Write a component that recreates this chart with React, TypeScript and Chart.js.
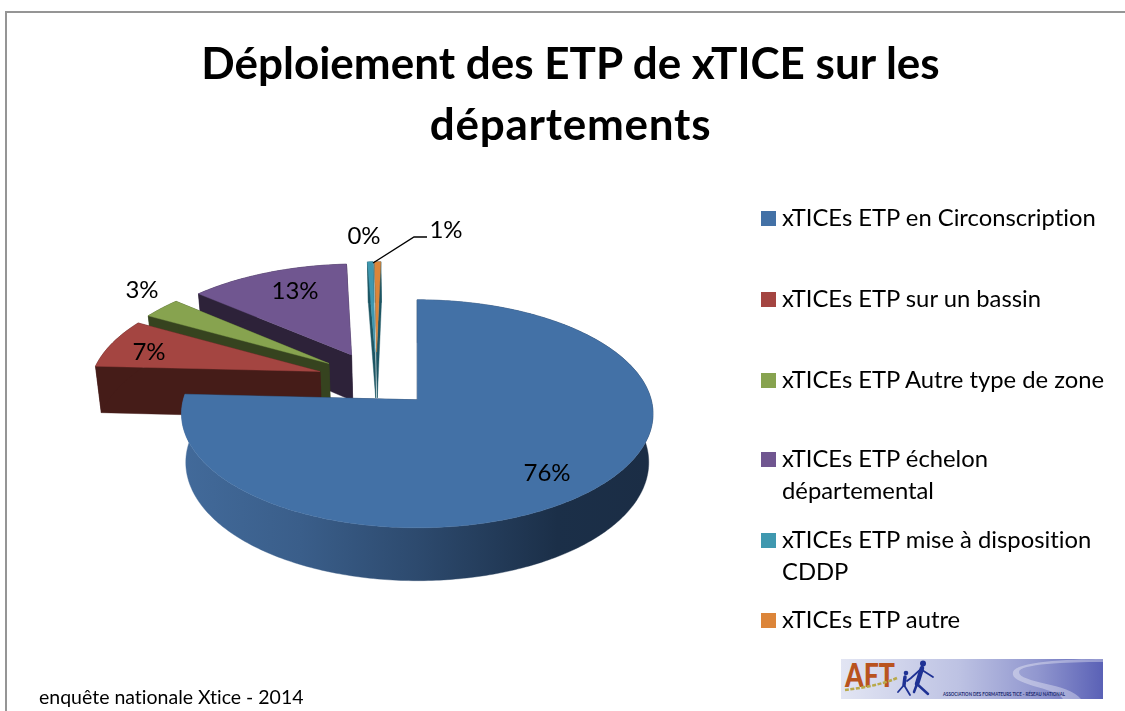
import React, { useEffect, useRef } from "react";
import { Chart, registerables } from "chart.js";

Chart.register(...registerables);

const titleLines = ["Déploiement des ETP de xTICE sur les", "départements"];
const categories = [
  "xTICEs ETP en Circonscription",
  "xTICEs ETP sur un bassin",
  "xTICEs ETP Autre type de zone",
  "xTICEs ETP échelon départemental",
  "xTICEs ETP mise à disposition CDDP",
  "xTICEs ETP autre",
];
const etpValues = [75.8, 7.3, 3.1, 12.85, 0.45, 0.5];
const valueLabels = ["76%", "7%", "3%", "13%", "0%", "1%"];
const topColors = ["#4371A6", "#A44541", "#87A34F", "#705690", "#3F98AF", "#DC8539"];
const wallColors = ["#1C3049", "#451C18", "#36431F", "#2D2239", "#1C5563", "#1C5563"];
const footnote = "enquête nationale Xtice - 2014";

const FONT = "Lato, Carlito, sans-serif";

// layout of the value labels and of the legend rows (centre positions in px)
const labelCentres = [[547, 473], [149, 352], [142, 290], [295, 291], [364, 236], [446, 230]];
const legendRows = [
  { y: 218, lines: [categories[0]] },
  { y: 299, lines: [categories[1]] },
  { y: 380, lines: [categories[2]] },
  { y: 459, lines: ["xTICEs ETP échelon", "départemental"] },
  { y: 540, lines: ["xTICEs ETP mise à disposition", "CDDP"] },
  { y: 620, lines: [categories[5]] },
];

const PERSP = 0.1228;
const Y_RATIO = 0.48;
const EXPLODE = 0.26;
const PIE_CENTRE = [-0.178, -0.19];

const pie3d = {
  id: "pie3d",
  beforeDatasetsDraw(chart: any) {
    const ctx = chart.ctx;
    const arcs = chart.getDatasetMeta(0).data as any[];
    const top = (a: any, u: number, v: number) => {
      const d = 1 - PERSP * v;
      return [a.x + (a.outerRadius * u) / d, a.y + (Y_RATIO * a.outerRadius * v) / d];
    };
    const bottom = (a: any, u: number, v: number) => {
      const p = top(a, u, v);
      return [a.x + 0.982 * (p[0] - a.x), p[1] + a.outerRadius * (0.205 + 0.021 * v)];
    };
    const fillPoly = (pts: number[][], fill: any) => {
      ctx.beginPath();
      pts.forEach((p, i) => (i ? ctx.lineTo(p[0], p[1]) : ctx.moveTo(p[0], p[1])));
      ctx.closePath();
      ctx.fillStyle = fill;
      ctx.strokeStyle = fill;
      ctx.lineWidth = 0.4;
      ctx.fill();
      ctx.stroke();
    };
    const items = arcs.map((a, i) => {
      const mid = (a.startAngle + a.endAngle) / 2;
      return {
        a,
        i,
        ou: PIE_CENTRE[0] + EXPLODE * Math.cos(mid),
        ov: PIE_CENTRE[1] + EXPLODE * Math.sin(mid),
      };
    });
    items.sort((p, q) => p.ov - q.ov);
    items.forEach(({ a, i, ou, ov }) => {
      const n = Math.max(2, Math.ceil((a.endAngle - a.startAngle) / 0.015));
      const rimUV: number[][] = [];
      for (let k = 0; k <= n; k++) {
        const t = a.startAngle + ((a.endAngle - a.startAngle) * k) / n;
        rimUV.push([ou + Math.cos(t), ov + Math.sin(t)]);
      }
      const topRim = rimUV.map((p) => top(a, p[0], p[1]));
      const botRim = rimUV.map((p) => bottom(a, p[0], p[1]));
      const apexT = top(a, ou, ov);
      const apexB = bottom(a, ou, ov);
      const wall = wallColors[i];
      fillPoly([apexT, topRim[n], botRim[n], apexB], wall);
      fillPoly([apexT, topRim[0], botRim[0], apexB], wall);
      let rimFill: any = wall;
      if (i === 0) {
        const g = ctx.createLinearGradient(a.x - a.outerRadius, 0, a.x + a.outerRadius, 0);
        g.addColorStop(0, "#426A9A");
        g.addColorStop(0.25, "#3A5E8A");
        g.addColorStop(0.5, "#2D4A6E");
        g.addColorStop(0.8, "#1B2F48");
        g.addColorStop(1, "#1B2D45");
        rimFill = g;
      }
      fillPoly([...topRim, ...botRim.slice().reverse()], rimFill);
      fillPoly([apexT, ...topRim], a.options.backgroundColor);
    });

    ctx.fillStyle = "#000";
    ctx.font = "24px " + FONT;
    ctx.textAlign = "center";
    ctx.textBaseline = "middle";
    valueLabels.forEach((t, i) => ctx.fillText(t, labelCentres[i][0], labelCentres[i][1]));

    ctx.strokeStyle = "#000";
    ctx.lineWidth = 1.4;
    ctx.beginPath();
    ctx.moveTo(373, 263);
    ctx.lineTo(414, 237);
    ctx.lineTo(427, 237);
    ctx.stroke();
    return false;
  },
};

const abs = (o: React.CSSProperties): React.CSSProperties => ({ position: "absolute", ...o });

function Logo() {
  return (
    <svg style={abs({ left: 841, top: 659 })} width={262} height={40} viewBox="0 0 262 40">
      <defs>
        <linearGradient id="bg" x1="0" x2="1" y1="0" y2="0">
          <stop offset="0" stopColor="#E2E5F3" />
          <stop offset="0.45" stopColor="#BDC2E3" />
          <stop offset="0.75" stopColor="#9197CF" />
          <stop offset="1" stopColor="#5A61B6" />
        </linearGradient>
      </defs>
      <rect width="262" height="40" fill="url(#bg)" />
      <path d="M262 3 C225 3 178 5 178 13 C178 24 228 24 240 40 L222 40 C214 28 168 26 172 13 C175 3 225 0 262 0 Z" fill="#FFFFFF" fillOpacity="0.35" />
      <text x="4" y="28" fontFamily={FONT} fontWeight="900" fontSize="33" fill="#B9531F" textLength="50" lengthAdjust="spacingAndGlyphs">AFT</text>
      <path d="M4 31 C20 29 40 26 56 19" stroke="#B8A94A" strokeWidth="2.5" fill="none" strokeDasharray="4 1.5" />
      <g stroke="#1E3194" fill="none" strokeLinecap="round">
        <circle cx="82" cy="4.5" r="3" fill="#1E3194" stroke="none" />
        <path d="M81 9 L76 25" strokeWidth="4.5" />
        <path d="M76 25 L73 33 M76 25 L87 35" strokeWidth="2.5" />
        <path d="M80 10 L70 19 L66 22 M81 11 L92 18" strokeWidth="1.8" />
        <circle cx="65" cy="14" r="2.3" fill="#1E3194" stroke="none" />
        <path d="M64 18 L63 26" strokeWidth="3.5" />
        <path d="M63 26 L57 33 M63 26 L69 36" strokeWidth="1.8" />
      </g>
      <text x="102" y="37" fontFamily={FONT} fontWeight="700" fontSize="4.6" fill="#1B2A70" textLength="122" lengthAdjust="spacingAndGlyphs">ASSOCIATION DES FORMATEURS TICE - RÉSEAU NATIONAL</text>
    </svg>
  );
}

export default function App() {
  const ref = useRef<HTMLCanvasElement | null>(null);
  useEffect(() => {
    const chart = new Chart(ref.current as HTMLCanvasElement, {
      type: "pie",
      data: {
        labels: categories,
        datasets: [{ data: etpValues, backgroundColor: topColors, borderWidth: 0 }],
      },
      options: {
        responsive: false,
        animation: false,
        layout: { padding: { left: 183, right: 474, top: 166, bottom: 77 } },
        plugins: { legend: { display: false }, title: { display: false }, tooltip: { enabled: false } },
      },
      plugins: [pie3d],
    } as any);
    return () => chart.destroy();
  }, []);

  const textBase: React.CSSProperties = { fontFamily: FONT, color: "#000", whiteSpace: "nowrap", fontVariantLigatures: "none" };
  return (
    <div style={{ position: "fixed", left: 0, top: 0, width: 1125, height: 711, background: "#fff", overflow: "hidden" }}>
      <div style={abs({ left: 5, top: 11, width: 1125, height: 2, background: "#959595" })} />
      <div style={abs({ left: 5, top: 11, width: 2, height: 711, background: "#959595" })} />
      <canvas ref={ref} width={1125} height={711} style={abs({ left: 0, top: 0, width: 1125, height: 711 })} />
      {titleLines.map((t, i) => (
        <div key={t} style={abs({ ...textBase, left: 0, width: 1141, textAlign: "center", top: 63 + i * 61 - 31, lineHeight: "60px", height: 60, fontSize: 44, fontWeight: 700, letterSpacing: i === 1 ? 0.75 : 0 })}>{t}</div>
      ))}
      {legendRows.map((r, i) => (
        <React.Fragment key={i}>
          <div style={abs({ left: 761, top: r.y - 7.5, width: 15, height: 15, background: topColors[i] })} />
          {r.lines.map((l, k) => (
            <div key={l} style={abs({ ...textBase, left: 782, top: r.y + k * 32 - 17, lineHeight: "32px", height: 32, fontSize: 23.8 })}>{l}</div>
          ))}
        </React.Fragment>
      ))}
      <div style={abs({ ...textBase, left: 39, top: 685, lineHeight: "24px", height: 24, fontSize: 19.5 })}>{footnote}</div>
      <Logo />
    </div>
  );
}
